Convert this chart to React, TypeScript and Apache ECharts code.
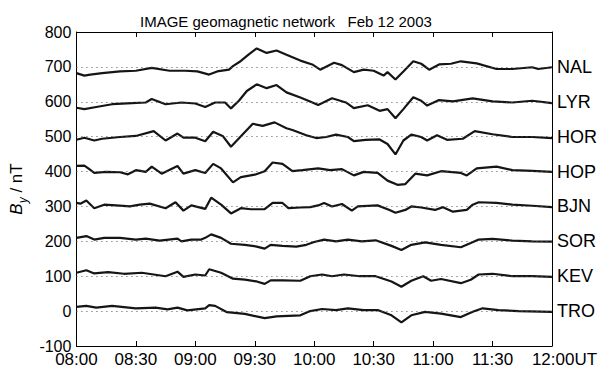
import React, { useEffect, useRef } from "react";
import * as echarts from "echarts";

// Time axis: minutes after 08:00 UT
const xTicks = [0, 30, 60, 90, 120, 150, 180, 210, 240];
const yTicks = [-100, 0, 100, 200, 300, 400, 500, 600, 700, 800];

const stations = ["NAL", "LYR", "HOR", "HOP", "BJN", "SOR", "KEV", "TRO"];
const offsets = [700, 600, 500, 400, 300, 200, 100, 0];

const nalT = [0, 4, 7, 13, 22, 30, 38, 47, 55, 61, 67, 71, 77, 79, 83, 87, 91, 96, 101, 106, 113, 119, 123, 130, 134, 140, 145, 150, 155, 157, 161, 165, 170, 174, 178, 183, 189, 194, 202, 212, 220, 230, 233, 240];
const nalV = [-18, -25, -22, -18, -13, -11, -3, -11, -11, -13, -22, -13, -8, 2, 17, 36, 53, 40, 47, 35, 18, 7, -8, 12, 5, -15, -8, -11, -25, -15, -36, -13, 16, 9, -8, 7, 9, 16, 10, -6, -6, -1, -6, -1];

const lyrT = [0, 4, 10, 18, 28, 35, 38, 45, 53, 60, 65, 70, 75, 78, 82, 86, 91, 96, 101, 106, 113, 117, 122, 129, 136, 140, 147, 153, 157, 161, 165, 170, 174, 177, 183, 190, 200, 210, 220, 230, 240];
const lyrV = [-17, -21, -15, -7, -4, -2, 8, -7, -2, -5, -15, -2, -2, -19, 3, 31, 50, 39, 48, 27, 12, 3, -9, 10, -2, -18, -10, -26, -21, -47, -21, 13, 3, -11, 5, 1, 10, 1, -2, 3, -4];

const horT = [0, 4, 9, 13, 22, 30, 39, 45, 51, 54, 60, 65, 69, 74, 78, 83, 89, 94, 100, 106, 109, 116, 121, 126, 131, 137, 140, 146, 153, 157, 161, 165, 169, 174, 177, 182, 187, 195, 201, 210, 220, 230, 240];
const horV = [-9, -3, -11, -6, -1, 2, 16, -11, 9, -3, -3, -13, 14, 1, -29, 1, 37, 31, 41, 24, 19, 4, -4, -1, 6, -1, -13, -9, -8, -21, -51, -11, 6, -1, -11, 4, -9, -6, 16, 7, -1, -1, -4];

const hopT = [0, 4, 6, 9, 15, 22, 26, 30, 35, 38, 43, 51, 54, 60, 65, 69, 73, 79, 83, 90, 95, 99, 104, 109, 114, 122, 128, 134, 140, 145, 152, 157, 162, 166, 171, 177, 184, 194, 197, 202, 212, 220, 230, 240];
const hopV = [16, 17, 9, -4, -1, -2, -8, 4, -1, 14, -6, 16, -6, 4, -4, 22, 9, -31, -16, -9, 1, 26, 22, 1, 4, 9, 4, 7, -11, -1, -4, -26, -38, -36, -6, -11, 1, -4, -11, 9, 14, 4, 2, -1];

const bjnT = [0, 2, 5, 9, 14, 20, 27, 32, 37, 45, 50, 54, 58, 65, 68, 73, 78, 83, 88, 95, 99, 104, 107, 113, 118, 122, 125, 129, 134, 139, 142, 152, 158, 161, 166, 169, 174, 181, 185, 190, 197, 200, 203, 212, 220, 230, 240];
const bjnV = [10, 8, 17, -5, 5, 3, 0, 5, 8, -5, 12, -12, 3, -7, 25, 5, -20, -5, -8, -8, 10, 10, -5, -3, -2, 3, 10, 0, 7, -12, 0, 3, -10, -18, -10, 0, -3, -10, -2, -15, -10, 5, 12, 10, 5, 2, -2];

const sorT = [0, 5, 9, 14, 22, 30, 35, 42, 51, 53, 58, 63, 65, 68, 73, 78, 85, 91, 95, 98, 104, 111, 116, 120, 125, 131, 137, 144, 151, 159, 164, 169, 176, 184, 194, 199, 203, 210, 220, 230, 240];
const sorV = [10, 15, 5, 10, 10, 5, 8, 2, 8, 0, 5, 5, 10, 20, 10, -7, -10, -15, -21, -10, -13, -15, -10, -2, 5, 0, 5, 0, 3, -13, -25, -10, -3, -10, -17, -5, 5, 7, 2, 0, -1];

const kevT = [0, 5, 9, 16, 24, 33, 45, 51, 54, 60, 65, 67, 73, 79, 85, 91, 95, 98, 104, 113, 118, 124, 129, 135, 143, 151, 159, 164, 169, 175, 179, 184, 194, 199, 203, 210, 220, 230, 240];
const kevV = [10, 17, 8, 12, 7, 10, 0, 13, -2, 5, 2, 20, 10, -7, -10, -15, -22, -12, -12, -13, 0, 5, 0, 5, 0, 0, -15, -30, -13, 0, -13, -8, -20, -10, 5, 7, 0, 0, -2];

const troT = [0, 5, 10, 18, 30, 40, 46, 51, 56, 65, 67, 70, 76, 85, 95, 101, 113, 118, 124, 131, 137, 145, 152, 159, 164, 169, 176, 184, 194, 200, 205, 213, 223, 240];
const troV = [12, 15, 10, 15, 8, 10, 5, 10, 2, 8, 17, 15, -3, -8, -20, -15, -12, 0, 6, 3, 8, 3, 3, -12, -32, -12, -2, -7, -17, -2, 8, 3, 0, -2];

const traceTimes = [nalT, lyrT, horT, hopT, bjnT, sorT, kevT, troT];
const traceValues = [nalV, lyrV, horV, hopV, bjnV, sorV, kevV, troV];

const FONT = "'Liberation Sans', Arial, Helvetica, sans-serif";

function fmtTime(m: number): string {
  const h = 8 + Math.floor(m / 60);
  const mm = m % 60;
  const s = (h < 10 ? "0" : "") + h + ":" + (mm < 10 ? "0" : "") + mm;
  return m === 240 ? "{u|" + s + "UT}" : s;
}

export default function App() {
  const ref = useRef<HTMLDivElement>(null);
  useEffect(() => {
    if (!ref.current) return;
    const chart = echarts.init(ref.current, undefined, { renderer: "svg" });
    const series: any[] = stations.map((name, k) => ({
      name,
      type: "line",
      showSymbol: false,
      symbol: "none",
      xAxisIndex: 0,
      yAxisIndex: 0,
      data: traceTimes[k].map((t, i) => [t, offsets[k] + traceValues[k][i]]),
      lineStyle: { color: "#151515", width: 2.2 },
      z: 3,
    }));
    // dotted baselines, one per station offset
    series.push({
      name: "baselines",
      type: "line",
      data: [],
      xAxisIndex: 0,
      yAxisIndex: 0,
      z: 1,
      markLine: {
        silent: true,
        symbol: ["none", "none"],
        label: { show: false },
        lineStyle: { color: "#555", width: 1, type: [1, 4] },
        data: offsets.map((o) => ({ yAxis: o })),
      },
    });
    chart.setOption({
      animation: false,
      backgroundColor: "#ffffff",
      textStyle: { fontFamily: FONT },
      title: {
        text: "IMAGE geomagnetic network   Feb 12 2003",
        left: 135,
        top: 9,
        textStyle: { fontSize: 15, fontWeight: "normal", color: "#000", fontFamily: FONT },
      },
      grid: { left: 68, right: 53, top: 32, bottom: 21, containLabel: false },
      xAxis: [
        {
          type: "value",
          min: xTicks[0],
          max: xTicks[xTicks.length - 1],
          interval: 30,
          position: "bottom",
          axisLine: { show: true, onZero: false, lineStyle: { color: "#000", width: 1 } },
          axisTick: { show: true, inside: true, length: 5, lineStyle: { color: "#000" } },
          axisLabel: {
            formatter: fmtTime,
            color: "#000",
            fontSize: 17,
            margin: 5,
            fontFamily: FONT,
            rich: { u: { fontSize: 17, color: "#000", padding: [0, 0, 0, 25], fontFamily: FONT } },
          },
          splitLine: { show: false },
        },
        {
          type: "value",
          min: xTicks[0],
          max: xTicks[xTicks.length - 1],
          interval: 30,
          position: "top",
          axisLine: { show: true, onZero: false, lineStyle: { color: "#000", width: 1 } },
          axisTick: { show: true, inside: true, length: 5, lineStyle: { color: "#000" } },
          axisLabel: { show: false },
          splitLine: { show: false },
        },
      ],
      yAxis: [
        {
          type: "value",
          min: yTicks[0],
          max: yTicks[yTicks.length - 1],
          interval: 100,
          position: "left",
          axisLine: { show: true, onZero: false, lineStyle: { color: "#000", width: 1 } },
          axisTick: { show: false },
          axisLabel: { color: "#000", fontSize: 16, margin: 5, fontFamily: FONT },
          splitLine: { show: false },
          name: "{i|B}{s|y}{n| / nT}",
          nameLocation: "middle",
          nameGap: 44,
          nameRotate: 90,
          nameTextStyle: {
            rich: {
              i: { fontSize: 17, fontStyle: "italic", color: "#000", fontFamily: FONT, lineHeight: 24, verticalAlign: "middle" },
              s: { fontSize: 12, fontStyle: "italic", color: "#000", fontFamily: FONT, lineHeight: 24, verticalAlign: "bottom" },
              n: { fontSize: 17, color: "#000", fontFamily: FONT, lineHeight: 24, verticalAlign: "middle" },
            },
          },
        },
        {
          type: "value",
          min: yTicks[0],
          max: yTicks[yTicks.length - 1],
          interval: 100,
          position: "right",
          axisLine: { show: true, onZero: false, lineStyle: { color: "#000", width: 1 } },
          axisTick: { show: false },
          axisLabel: {
            color: "#000",
            fontSize: 18,
            margin: 5,
            fontFamily: FONT,
            formatter: (v: number) => {
              const k = offsets.indexOf(v);
              return k >= 0 ? stations[k] : "";
            },
          },
          splitLine: { show: false },
        },
      ],
      series,
    });
    return () => chart.dispose();
  }, []);
  return <div ref={ref} style={{ width: 605, height: 368, position: "absolute", left: 0, top: 0 }} />;
}
